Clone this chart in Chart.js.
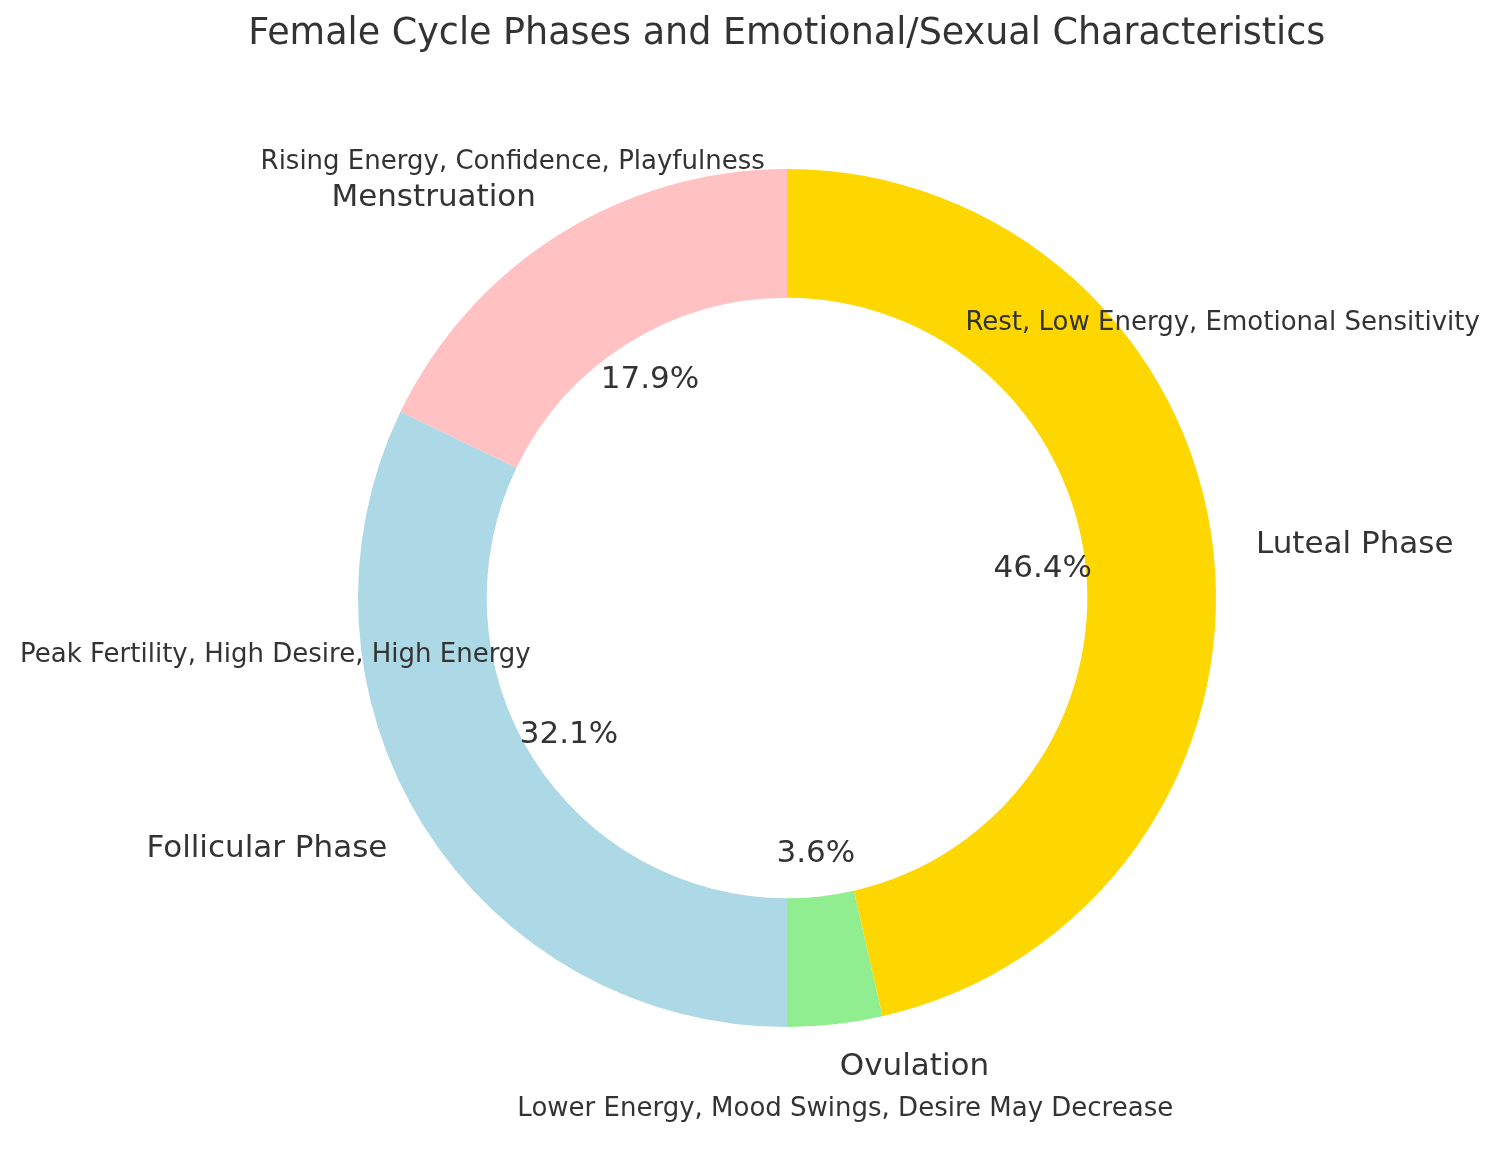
<!DOCTYPE html>
<html>
<head>
<meta charset="utf-8">
<script src="https://cdn.jsdelivr.net/npm/chart.js@4"></script>
<style>
  html, body { margin: 0; padding: 0; background: #fff; }
  #wrap { width: 1500px; height: 1154px; }
</style>
</head>
<body>
<div id="wrap"><canvas id="grafica"></canvas></div>
<script>
// phases in matplotlib order (counterclockwise from the top)
const phases = ["Menstruation", "Follicular Phase", "Ovulation", "Luteal Phase"];
const days = [5, 9, 1, 13];
const colores = ["#FFC1C1", "#ADD8E6", "#90EE90", "#FFD700"];
// descriptions as they appear in the picture, with their angle (deg, ccw from +x)
const descripciones = [
    "Rising Energy, Confidence, Playfulness",
    "Peak Fertility, High Desire, High Energy",
    "Lower Energy, Mood Swings, Desire May Decrease",
    "Rest, Low Energy, Emotional Sensitivity"
];
const anguloDesc = [122.2, 186.4, 276.5, 32.2];

const total = days.reduce((a, b) => a + b, 0);

// chart.js goes clockwise, so reverse to get the same picture
const orden = [3, 2, 1, 0];

const etiquetasPlugin = {
    id: 'etiquetas',
    afterDraw(chart) {
        const ctx = chart.ctx;
        const arcs = chart.getDatasetMeta(0).data;
        ctx.save();
        ctx.fillStyle = '#333333';
        ctx.textBaseline = 'middle';

        // title
        ctx.font = '36.5px "DejaVu Sans"';
        ctx.textAlign = 'center';
        ctx.fillText("Female Cycle Phases and Emotional/Sexual Characteristics", chart.width * 0.5245, 35);

        arcs.forEach((arc, i) => {
            const idx = orden[i];
            const mid = (arc.startAngle + arc.endAngle) / 2;
            const r = arc.outerRadius;
            // phase name
            const lx = arc.x + Math.cos(mid) * r * 1.1;
            const ly = arc.y + Math.sin(mid) * r * 1.1;
            ctx.font = '31px "DejaVu Sans"';
            ctx.textAlign = Math.cos(mid) >= 0 ? 'left' : 'right';
            ctx.fillText(phases[idx], lx, ly);
            // percentage
            const px = arc.x + Math.cos(mid) * r * 0.6;
            const py = arc.y + Math.sin(mid) * r * 0.6;
            ctx.font = '31px "DejaVu Sans"';
            ctx.textAlign = 'center';
            ctx.fillText((days[idx] / total * 100).toFixed(1) + '%', px, py);
        });

        // descriptions
        const a0 = arcs[0];
        ctx.font = '26px "DejaVu Sans"';
        ctx.textAlign = 'center';
        descripciones.forEach((txt, i) => {
            const ang = anguloDesc[i] * Math.PI / 180;
            const x = a0.x + Math.cos(ang) * a0.outerRadius * 1.2;
            const y = a0.y - Math.sin(ang) * a0.outerRadius * 1.2;
            ctx.fillText(txt, x, y);
        });
        ctx.restore();
    }
};

new Chart(document.getElementById('grafica'), {
    type: 'doughnut',
    data: {
        labels: orden.map(i => phases[i]),
        datasets: [{
            data: orden.map(i => days[i]),
            backgroundColor: orden.map(i => colores[i]),
            borderWidth: 0
        }]
    },
    options: {
        responsive: true,
        maintainAspectRatio: false,
        animation: false,
        cutout: '70%',
        layout: { padding: { left: 358, right: 284, top: 169, bottom: 127 } },
        plugins: {
            legend: { display: false },
            tooltip: { enabled: false },
            title: { display: false }
        }
    },
    plugins: [etiquetasPlugin]
});
</script>
</body>
</html>
